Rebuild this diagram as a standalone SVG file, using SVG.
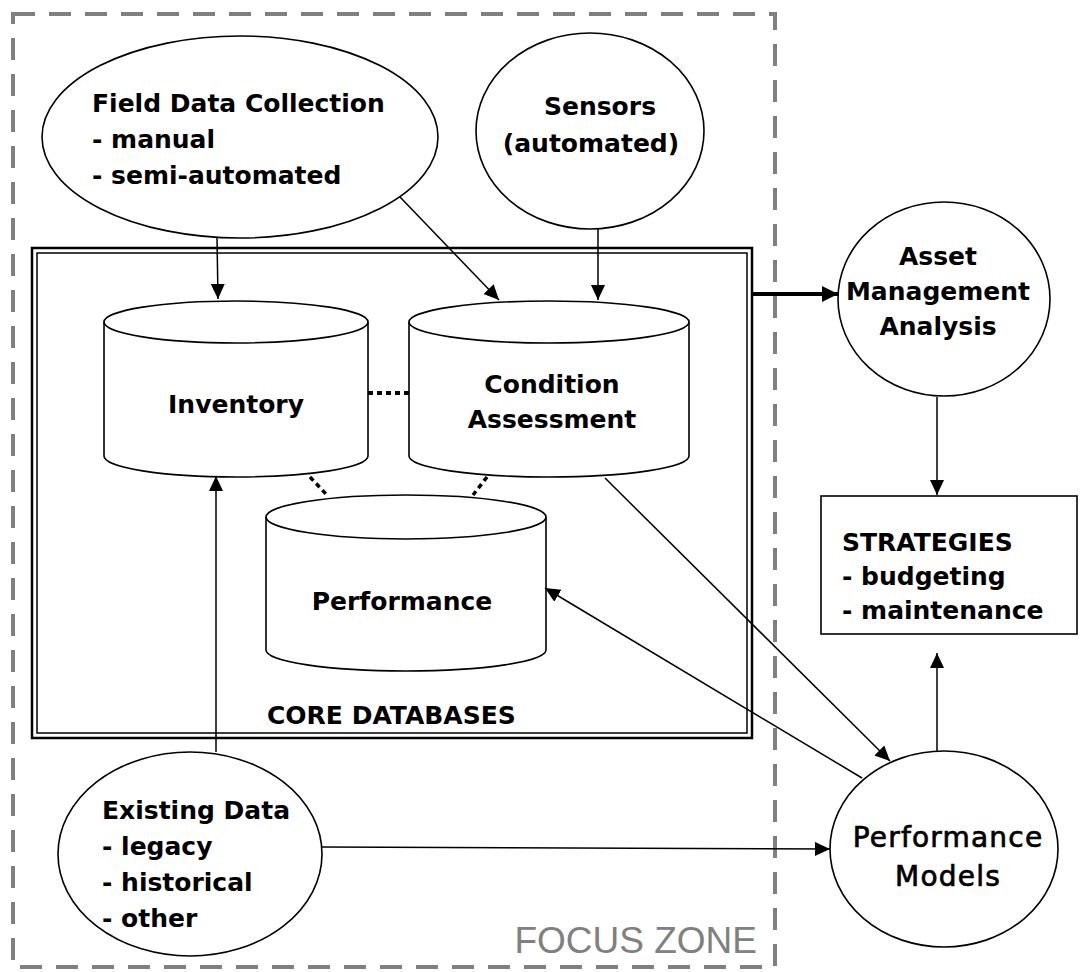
<svg xmlns="http://www.w3.org/2000/svg" width="1080" height="972" viewBox="0 0 1080 972">
<style>
.t{font-family:"DejaVu Sans",sans-serif;font-weight:bold;font-size:25px;fill:#000}
.tr{font-family:"DejaVu Sans",sans-serif;font-size:28px;letter-spacing:1.2px;fill:#000;stroke:#000;stroke-width:0.7}
.shape{fill:#fff;stroke:#000;stroke-width:1.6}
.ln{fill:none;stroke:#000;stroke-width:1.5}
.dot{fill:none;stroke:#000;stroke-width:4;stroke-dasharray:5 4}
</style>
<defs>
<marker id="ah" markerUnits="userSpaceOnUse" markerWidth="16" markerHeight="16" refX="15" refY="7" orient="auto">
<path d="M0,0 L15,7 L0,14 Z" fill="#000"/>
</marker>
<marker id="ahb" markerUnits="userSpaceOnUse" markerWidth="18" markerHeight="18" refX="16" refY="8" orient="auto">
<path d="M0,0 L16,8 L0,16 Z" fill="#000"/>
</marker>
</defs>
<rect width="1080" height="972" fill="#fff"/>
<g id="focus-zone">
<rect x="13" y="14" width="762" height="953" fill="none" stroke="#808080" stroke-width="4" stroke-dasharray="22 14"/>
<text x="757" y="953" text-anchor="end" font-family="Liberation Sans, Arial, sans-serif" font-size="37" fill="#808080">FOCUS ZONE</text>
</g>
<g id="core-databases">
<rect x="32" y="248" width="720" height="490" fill="none" stroke="#000" stroke-width="2.5"/>
<rect x="37" y="253" width="710" height="480" fill="none" stroke="#000" stroke-width="1.5"/>
<text class="t" x="267" y="724">CORE DATABASES</text>
</g>
<g id="field-data">
<ellipse class="shape" cx="240" cy="137" rx="198" ry="101"/>
<text class="t" x="92" y="112">Field Data Collection</text>
<text class="t" x="92" y="148">- manual</text>
<text class="t" x="92" y="184">- semi-automated</text>
</g>
<g id="sensors">
<ellipse class="shape" cx="590" cy="131" rx="114" ry="98"/>
<text class="t" x="600" y="115" text-anchor="middle">Sensors</text>
<text class="t" x="591" y="152" text-anchor="middle">(automated)</text>
</g>
<g id="inventory">
<path class="shape" d="M104,322 L104,456 A132,21 0 0 0 368,456 L368,322 A132,21 0 0 0 104,322 Z"/>
<path class="ln" style="stroke-width:1.6" d="M104,322 A132,21 0 0 0 368,322"/>
<text class="t" x="236" y="413" text-anchor="middle">Inventory</text>
</g>
<g id="condition">
<path class="shape" d="M409,322 L409,456 A140,21 0 0 0 689,456 L689,322 A140,21 0 0 0 409,322 Z"/>
<path class="ln" style="stroke-width:1.6" d="M409,322 A140,21 0 0 0 689,322"/>
<text class="t" x="552" y="393" text-anchor="middle">Condition</text>
<text class="t" x="552" y="428" text-anchor="middle">Assessment</text>
</g>
<g id="performance">
<path class="shape" d="M266,517 L266,650 A140,21 0 0 0 546,650 L546,517 A140,22 0 0 0 266,517 Z"/>
<path class="ln" style="stroke-width:1.6" d="M266,517 A140,22 0 0 0 546,517"/>
<text class="t" x="402" y="610" text-anchor="middle">Performance</text>
</g>
<g id="existing-data">
<ellipse class="shape" cx="190" cy="854" rx="132" ry="102"/>
<text class="t" x="102" y="819">Existing Data</text>
<text class="t" x="102" y="855">- legacy</text>
<text class="t" x="102" y="891">- historical</text>
<text class="t" x="102" y="927">- other</text>
</g>
<g id="asset-management">
<ellipse class="shape" cx="944" cy="299" rx="106" ry="97"/>
<text class="t" x="938" y="265" text-anchor="middle">Asset</text>
<text class="t" x="938" y="300" text-anchor="middle">Management</text>
<text class="t" x="938" y="335" text-anchor="middle">Analysis</text>
</g>
<g id="strategies">
<rect class="shape" x="821" y="496" width="256" height="138"/>
<text class="t" x="842" y="551">STRATEGIES</text>
<text class="t" x="842" y="585">- budgeting</text>
<text class="t" x="842" y="619">- maintenance</text>
</g>
<g id="performance-models">
<ellipse class="shape" cx="944" cy="849" rx="114" ry="98"/>
<text class="tr" x="948" y="847" text-anchor="middle">Performance</text>
<text class="tr" x="948" y="886" text-anchor="middle">Models</text>
</g>
<g id="connectors">
<line class="ln" x1="217" y1="238" x2="218" y2="299" marker-end="url(#ah)"/>
<line class="ln" x1="400" y1="197" x2="499" y2="300" marker-end="url(#ah)"/>
<line class="ln" x1="598" y1="229" x2="598" y2="300" marker-end="url(#ah)"/>
<line class="dot" x1="368" y1="393" x2="409" y2="393"/>
<line class="dot" style="stroke-width:3.5" x1="310" y1="477" x2="327" y2="495"/>
<line class="dot" style="stroke-width:3.5" x1="487" y1="477" x2="473" y2="495"/>
<line class="ln" x1="216" y1="752" x2="216" y2="476" marker-end="url(#ah)"/>
<line class="ln" x1="605" y1="478" x2="890" y2="761" marker-end="url(#ah)"/>
<line class="ln" x1="862" y1="778" x2="545" y2="588" marker-end="url(#ah)"/>
<line class="ln" x1="322" y1="847" x2="830" y2="849" marker-end="url(#ah)"/>
<line class="ln" style="stroke-width:4" x1="752" y1="294" x2="838" y2="294" marker-end="url(#ahb)"/>
<line class="ln" x1="937" y1="397" x2="937" y2="495" marker-end="url(#ah)"/>
<line class="ln" x1="937" y1="751" x2="937" y2="653" marker-end="url(#ah)"/>
</g>
</svg>
